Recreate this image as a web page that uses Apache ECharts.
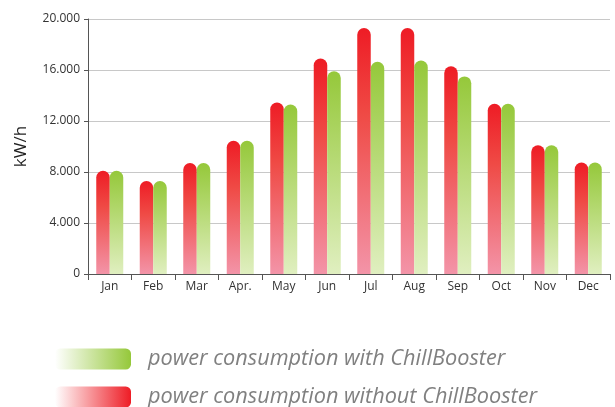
<!DOCTYPE html>
<html>
<head>
<meta charset="utf-8">
<script src="https://cdn.jsdelivr.net/npm/echarts@6/dist/echarts.min.js"></script>
<style>
html,body{margin:0;padding:0;background:#fff;}
#c{width:615px;height:407px;}
</style>
</head>
<body>
<div id="c"></div>
<script>
const categories = ['Jan','Feb','Mar','Apr.','May','Jun','Jul','Aug','Sep','Oct','Nov','Dec'];
const withoutCB = [8100, 7300, 8700, 10450, 13450, 16900, 19300, 19300, 16300, 13350, 10100, 8750];
const withCB    = [8100, 7300, 8700, 10450, 13300, 15900, 16650, 16750, 15500, 13350, 10100, 8750];
const yTicks = { min: 0, max: 20000, interval: 4000 };
const yAxisName = 'kW/h';
const nameWith = 'power consumption with ChillBooster';
const nameWithout = 'power consumption without ChillBooster';

const font = 'Open Sans';
const chart = echarts.init(document.getElementById('c'), null, {renderer: 'canvas'});

const redGrad = new echarts.graphic.LinearGradient(0,0,0,1,[
  {offset:0,color:'#ee1c25'},{offset:0.35,color:'#ef4a45'},{offset:1,color:'#f394a8'}]);
const greenGrad = new echarts.graphic.LinearGradient(0,0,0,1,[
  {offset:0,color:'#95c83a'},{offset:0.4,color:'#b3d86f'},{offset:1,color:'#e0efc0'}]);
const redLegend = new echarts.graphic.LinearGradient(0,0,1,0,[
  {offset:0,color:'#ffffff'},{offset:1,color:'#ee1c25'}]);
const greenLegend = new echarts.graphic.LinearGradient(0,0,1,0,[
  {offset:0,color:'#ffffff'},{offset:1,color:'#95c83a'}]);

function legendFor(name, grad, top) {
  return {
    left: 50, top: top, padding: 5,
    itemWidth: 76, itemHeight: 21, icon: 'roundRect',
    selectedMode: false,
    textStyle: {fontSize: 21.7, fontStyle: 'italic', color: '#808080', fontFamily: font, padding: [0,0,0,12]},
    data: [{name: name, itemStyle: {color: grad}}]
  };
}

chart.setOption({
  animation: false,
  textStyle: {fontFamily: font},
  grid: {left: 88, right: 5, top: 19, bottom: 133, containLabel: false},
  legend: [
    legendFor(nameWith, greenLegend, 343),
    legendFor(nameWithout, redLegend, 381)
  ],
  xAxis: {
    type: 'category', data: categories,
    axisLine: {lineStyle: {color: '#555', width: 1}},
    axisTick: {show: true, length: 6, lineStyle: {color: '#555'}},
    axisLabel: {color: '#333', fontSize: 12, margin: 7}
  },
  yAxis: {
    type: 'value', min: yTicks.min, max: yTicks.max, interval: yTicks.interval,
    name: yAxisName, nameLocation: 'middle', nameGap: 58, nameRotate: 90,
    nameTextStyle: {fontSize: 17, color: '#222'},
    axisLine: {show: true, lineStyle: {color: '#555', width: 1}},
    axisTick: {show: true, length: 4, lineStyle: {color: '#555'}},
    axisLabel: {color: '#333', fontSize: 12, margin: 8,
      formatter: v => v === 0 ? '0' : (v/1000).toFixed(3)},
    splitLine: {lineStyle: {color: '#c8c8c8'}}
  },
  series: [
    {name: nameWithout, type: 'bar', data: withoutCB, barWidth: 13.5, barGap: '0%',
     itemStyle: {color: redGrad, borderRadius: [7,7,0,0]}},
    {name: nameWith, type: 'bar', data: withCB, barWidth: 13.5, barGap: '0%',
     itemStyle: {color: greenGrad, borderRadius: [7,7,0,0]}}
  ]
});
</script>
</body>
</html>
